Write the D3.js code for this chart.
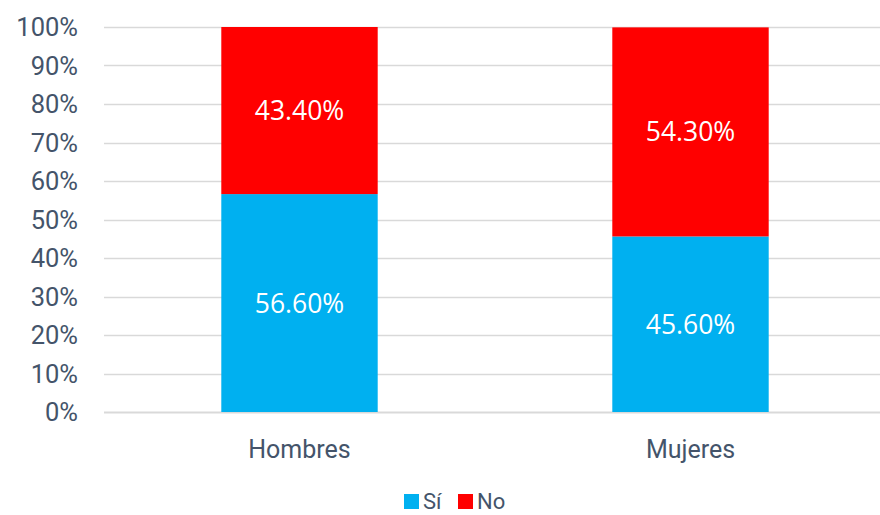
<!DOCTYPE html>
<html>
<head>
<meta charset="utf-8">
<script src="https://cdn.jsdelivr.net/npm/d3@7"></script>
<style>
  body { margin: 0; background: #fff; }
  text { font-family: Roboto, "Liberation Sans", sans-serif; }
</style>
</head>
<body>
<div id="chart"></div>
<script>
const categories = ['Hombres', 'Mujeres'];
const si = [56.6, 45.6];
const no = [43.4, 54.3];
const yTicks = [0, 10, 20, 30, 40, 50, 60, 70, 80, 90, 100];
const legendItems = ['Sí', 'No'];

const width = 880, height = 515;
const colors = { 'Sí': '#00B0F0', 'No': '#FF0000' };
const textColor = '#44546A';

const svg = d3.select('#chart').append('svg')
  .attr('width', width)
  .attr('height', height);

const x = d3.scaleBand()
  .domain(categories)
  .range([104, 886])
  .padding(0);

const y = d3.scaleLinear()
  .domain([0, 100])
  .range([412, 27]);

const barWidth = x.bandwidth() * 0.4;

// gridlines
svg.append('g')
  .selectAll('line')
  .data(yTicks)
  .enter()
  .append('line')
  .attr('x1', 104)
  .attr('x2', width)
  .attr('y1', d => Math.round(y(d)) + 0.5)
  .attr('y2', d => Math.round(y(d)) + 0.5)
  .attr('stroke', '#D9D9D9')
  .attr('stroke-width', d => d === 0 ? 2 : 1.5);

// y tick labels
svg.append('g')
  .selectAll('text')
  .data(yTicks)
  .enter()
  .append('text')
  .attr('x', 78)
  .attr('y', d => y(d))
  .attr('dy', '0.36em')
  .attr('text-anchor', 'end')
  .style('font-size', '25.5px')
  .style('fill', textColor)
  .text(d => d + '%');

const stackData = categories.map((c, i) => ({ cat: c, 'Sí': si[i], 'No': no[i] }));
const stacked = d3.stack().keys(legendItems)(stackData);

const series = svg.append('g')
  .selectAll('g')
  .data(stacked)
  .enter()
  .append('g')
  .attr('fill', d => colors[d.key]);

series.selectAll('rect')
  .data(d => d)
  .enter()
  .append('rect')
  .attr('x', d => x(d.data.cat) + (x.bandwidth() - barWidth) / 2)
  .attr('width', barWidth)
  .attr('y', d => y(d[1]))
  .attr('height', d => y(d[0]) - y(d[1]));

series.selectAll('text')
  .data(d => d.map(v => ({ v, key: d.key })))
  .enter()
  .append('text')
  .attr('x', d => x(d.v.data.cat) + x.bandwidth() / 2)
  .attr('y', d => y((d.v[0] + d.v[1]) / 2))
  .attr('dy', '0.36em')
  .attr('text-anchor', 'middle')
  .style('font-family', '"Open Sans", sans-serif')
  .style('font-size', '26.5px')
  .style('fill', 'white')
  .text(d => (d.v[1] - d.v[0]).toFixed(2) + '%');

// category labels
svg.append('g')
  .selectAll('text')
  .data(categories)
  .enter()
  .append('text')
  .attr('x', d => x(d) + x.bandwidth() / 2)
  .attr('y', 449)
  .attr('dy', '0.36em')
  .attr('text-anchor', 'middle')
  .style('font-size', '25px')
  .style('fill', textColor)
  .text(d => d);

// legend
const legend = svg.append('g');
const legendX = [404, 458];
legendItems.forEach((k, i) => {
  legend.append('rect')
    .attr('x', legendX[i])
    .attr('y', 494)
    .attr('width', 15)
    .attr('height', 15)
    .attr('fill', colors[k]);
  legend.append('text')
    .attr('x', legendX[i] + 19)
    .attr('y', 501)
    .attr('dy', '0.36em')
    .style('font-size', '22px')
    .style('fill', textColor)
    .text(k);
});
</script>
</body>
</html>
